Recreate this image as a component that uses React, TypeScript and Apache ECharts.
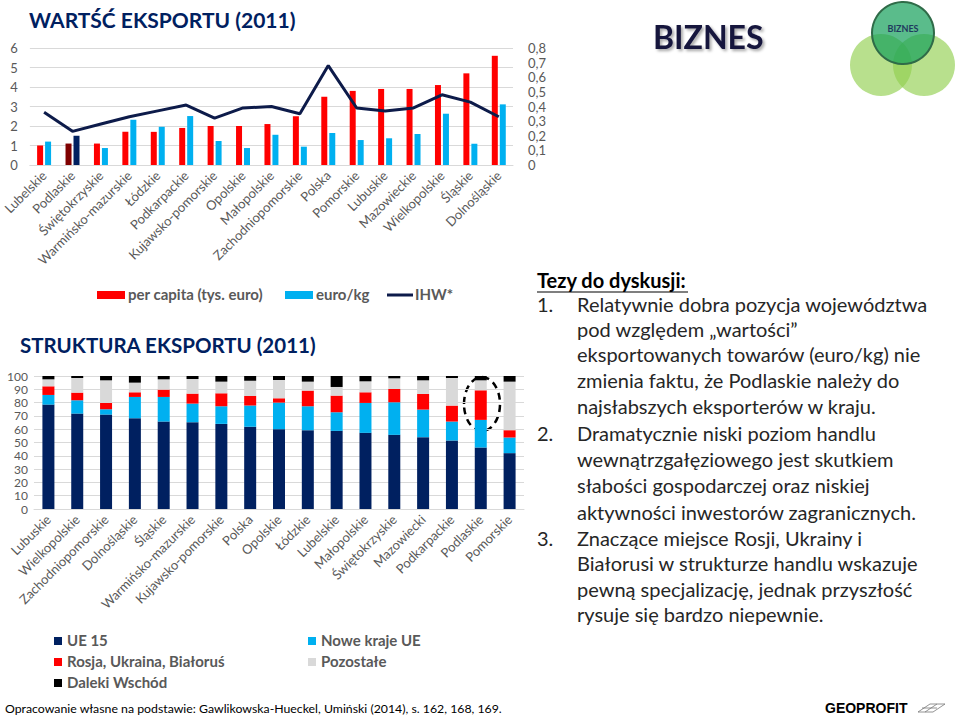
import React, { useEffect, useRef } from "react";
import * as echarts from "echarts";

const topCategories = ["Lubelskie", "Podlaskie", "Świętokrzyskie", "Warmińsko-mazurskie", "Łódzkie", "Podkarpackie", "Kujawsko-pomorskie", "Opolskie", "Małopolskie", "Zachodniopomorskie", "Polska", "Pomorskie", "Lubuskie", "Mazowieckie", "Wielkopolskie", "Śląskie", "Dolnośląskie"];
const perCapita = [1.0, 1.1, 1.1, 1.7, 1.7, 1.9, 2.0, 2.0, 2.1, 2.5, 3.5, 3.8, 3.9, 3.9, 4.1, 4.7, 5.6];
const euroPerKg = [1.2, 1.5, 0.87, 2.32, 1.96, 2.51, 1.23, 0.87, 1.55, 0.94, 1.64, 1.28, 1.37, 1.59, 2.63, 1.09, 3.11];
const ihw = [0.36, 0.23, 0.28, 0.33, 0.37, 0.41, 0.32, 0.39, 0.4, 0.35, 0.68, 0.39, 0.37, 0.39, 0.48, 0.43, 0.33];
const highlighted = "Podlaskie";

const bottomCategories = ["Lubuskie", "Wielkopolskie", "Zachodniopomorskie", "Dolnośląskie", "Śląskie", "Warmińsko-mazurskie", "Kujawsko-pomorskie", "Polska", "Opolskie", "Łódzkie", "Lubelskie", "Małopolskie", "Świętokrzyskie", "Mazowiecki", "Podkarpackie", "Podlaskie", "Pomorskie"];
const ue15 = [78.5, 71.75, 71, 68.25, 65.75, 65.25, 64, 61.75, 60, 59.25, 58.75, 57.25, 55.75, 54, 51.5, 46.25, 42];
const noweKraje = [7.25, 10, 4, 16, 18.5, 14, 13.25, 16, 20, 18, 14, 22.5, 24.5, 20.75, 14.25, 20.75, 11.75];
const rosja = [6.5, 5.75, 4.75, 3.5, 5.5, 7.5, 9.75, 7.25, 3.25, 11.75, 12.5, 8, 10, 11.75, 12, 22.25, 5.5];
const pozostale = [5.25, 11, 17, 7.25, 7.75, 11, 8.75, 11.5, 13.75, 6.75, 6.5, 8.25, 8, 10.25, 20.75, 7.5, 36.5];
const daleki = [2.5, 1.5, 3.25, 5, 2.5, 2.25, 4.25, 3.5, 3, 4.25, 8.25, 4, 1.75, 3.25, 1.5, 3.25, 4.25];

const leftTicks = [0, 6, 1];
const rightTicks = [0, 0.8, 0.1];
const shareTicks = [0, 100, 10];

const thesisLines = [
  { num: "1.", text: "Relatywnie dobra pozycja województwa" },
  { num: "", text: "pod względem „wartości”" },
  { num: "", text: "eksportowanych towarów (euro/kg) nie" },
  { num: "", text: "zmienia faktu, że Podlaskie należy do" },
  { num: "", text: "najsłabszych eksporterów w kraju." },
  { num: "2.", text: "Dramatycznie niski poziom handlu" },
  { num: "", text: "wewnątrzgałęziowego jest skutkiem" },
  { num: "", text: "słabości gospodarczej oraz niskiej" },
  { num: "", text: "aktywności inwestorów zagranicznych." },
  { num: "3.", text: "Znaczące miejsce Rosji, Ukrainy i" },
  { num: "", text: "Białorusi w strukturze handlu wskazuje" },
  { num: "", text: "pewną specjalizację, jednak przyszłość" },
  { num: "", text: "rysuje się bardzo niepewnie." },
];
const thesisY = [304, 329, 354, 380, 406, 433, 459, 485, 512, 538, 563, 589, 614];

const FONT = "Lato, 'Open Sans', sans-serif";
const GRAY = "#595959";
const NAVY = "#002060";

export default function App() {
  const ref = useRef<HTMLDivElement>(null);
  useEffect(() => {
    if (!ref.current) return;
    const chart = echarts.init(ref.current, null, { renderer: "svg" });
    const fmt = (v: number) => String(Math.round(v * 10) / 10).replace(".", ",");

    const legendText = (x: number, y: number, t: string) => ({
      type: "text", left: x, top: y - 9,
      style: { text: t, fill: GRAY, font: `bold 15px ${FONT}` },
    });
    const legendSq = (x: number, y: number, c: string) => ({
      type: "rect", shape: { x, y: y - 4, width: 8, height: 8 }, style: { fill: c },
    });

    const graphic: any[] = [
      { type: "text", left: 29, top: 9, style: { text: "WARTŚĆ EKSPORTU (2011)", fill: NAVY, font: `bold 21px ${FONT}` } },
      { type: "text", left: 20, top: 334, style: { text: "STRUKTURA EKSPORTU (2011)", fill: NAVY, font: `bold 20.5px ${FONT}` } },
      // top legend
      { type: "rect", shape: { x: 97, y: 291, width: 28, height: 8 }, style: { fill: "#ff0000" } },
      legendText(128, 295, "per capita (tys. euro)"),
      { type: "rect", shape: { x: 285, y: 291, width: 28, height: 8 }, style: { fill: "#00b0f0" } },
      legendText(316, 295, "euro/kg"),
      { type: "line", shape: { x1: 387, y1: 295, x2: 413, y2: 295 }, style: { stroke: "#0d1b4a", lineWidth: 3 } },
      legendText(415, 295, "IHW*"),
      // bottom legend
      legendSq(54, 641, NAVY), legendText(67, 641, "UE 15"),
      legendSq(54, 662, "#ff0000"), legendText(67, 662, "Rosja, Ukraina, Białoruś"),
      legendSq(54, 683, "#000000"), legendText(67, 683, "Daleki Wschód"),
      legendSq(308, 641, "#00b0f0"), legendText(321, 641, "Nowe kraje UE"),
      legendSq(308, 662, "#d9d9d9"), legendText(321, 662, "Pozostałe"),
      // dashed ellipse highlight
      { type: "ellipse", shape: { cx: 482, cy: 404, rx: 18, ry: 27 }, style: { fill: "none", stroke: "#000", lineWidth: 2.5, lineDash: [7, 5] } },
      // footer
      { type: "text", left: 5, top: 702, style: { text: "Opracowanie własne na podstawie: Gawlikowska-Hueckel, Umiński (2014), s. 162, 168, 169.", fill: "#000", font: `12.3px ${FONT}` } },
      // BIZNES heading
      { type: "text", left: 653, top: 20, style: { text: "BIZNES", fill: "#14143c", font: `bold 32px ${FONT}`, textShadowColor: "rgba(0,0,0,0.35)", textShadowBlur: 3, textShadowOffsetX: 2, textShadowOffsetY: 2 } },
      // logo circles
      { type: "circle", shape: { cx: 881, cy: 65, r: 31 }, style: { fill: "rgba(146,208,80,0.65)" } },
      { type: "circle", shape: { cx: 924, cy: 65, r: 31 }, style: { fill: "rgba(146,208,80,0.65)" } },
      { type: "circle", shape: { cx: 903, cy: 33, r: 31 }, style: { fill: "rgba(20,160,90,0.7)", stroke: "#2f6b48", lineWidth: 2 } },
      { type: "text", x: 903, y: 28, style: { text: "BIZNES", fill: "#1f3a5f", font: `bold 9px ${FONT}`, textAlign: "center", textVerticalAlign: "middle" } },
      // theses
      { type: "text", left: 537, top: 270, style: { text: "Tezy do dyskusji:", fill: "#000", font: `bold 20px ${FONT}` } },
      { type: "line", shape: { x1: 537, y1: 292, x2: 688, y2: 292 }, style: { stroke: "#000", lineWidth: 1.2 } },
      // GEOPROFIT
      { type: "text", left: 825, top: 701, style: { text: "GEOPROFIT", fill: "#000", font: `bold 14px Arial, 'Liberation Sans', sans-serif` } },
      { type: "polyline", shape: { points: [[918, 712], [930, 704], [945, 704], [933, 712], [918, 712]] }, style: { stroke: "#777", fill: "none", lineWidth: 0.8 } },
      { type: "polyline", shape: { points: [[922, 708], [937, 708]] }, style: { stroke: "#777", lineWidth: 0.8 } },
      { type: "polyline", shape: { points: [[925, 712], [937, 704]] }, style: { stroke: "#777", lineWidth: 0.8 } },
    ];
    thesisLines.forEach((l, i) => {
      if (l.num) graphic.push({ type: "text", x: 537, y: thesisY[i], style: { text: l.num, fill: "#262626", font: `20px ${FONT}`, textVerticalAlign: "middle" } });
      graphic.push({ type: "text", x: 577, y: thesisY[i], style: { text: l.text, fill: "#262626", font: `20px ${FONT}`, textVerticalAlign: "middle" } });
    });

    const axisLabel = { color: GRAY, fontFamily: FONT, fontSize: 13 };

    chart.setOption({
      animation: false,
      textStyle: { fontFamily: FONT },
      grid: [
        { left: 27, top: 48, width: 486, height: 117 },
        { left: 34, top: 376, width: 490, height: 133 },
      ],
      xAxis: [
        {
          type: "category", gridIndex: 0, data: topCategories,
          axisLine: { show: true, lineStyle: { color: "#d9d9d9" } }, axisTick: { show: false },
          axisLabel: { ...axisLabel, rotate: 45, interval: 0, margin: 8 },
        },
        {
          type: "category", gridIndex: 1, data: bottomCategories,
          axisLine: { show: true, lineStyle: { color: "#d9d9d9" } }, axisTick: { show: false },
          axisLabel: { ...axisLabel, rotate: 45, interval: 0, margin: 8 },
        },
      ],
      yAxis: [
        {
          type: "value", gridIndex: 0, min: leftTicks[0], max: leftTicks[1], interval: leftTicks[2],
          axisLine: { show: false }, axisTick: { show: false },
          splitLine: { lineStyle: { color: "#d9d9d9" } },
          axisLabel: { ...axisLabel, fontSize: 13, margin: 12 },
        },
        {
          type: "value", gridIndex: 0, min: rightTicks[0], max: rightTicks[1], interval: rightTicks[2],
          position: "right", axisLine: { show: false }, axisTick: { show: false }, splitLine: { show: false },
          axisLabel: { ...axisLabel, fontSize: 13, margin: 15, formatter: fmt },
        },
        {
          type: "value", gridIndex: 1, min: shareTicks[0], max: shareTicks[1], interval: shareTicks[2],
          axisLine: { show: false }, axisTick: { show: false },
          splitLine: { lineStyle: { color: "#d9d9d9" } },
          axisLabel: { ...axisLabel, fontSize: 12, lineHeight: 12, margin: 6 },
        },
      ],
      series: [
        {
          name: "per capita (tys. euro)", type: "bar", xAxisIndex: 0, yAxisIndex: 0, barWidth: 6, barGap: "33%",
          itemStyle: { color: "#ff0000" },
          data: perCapita.map((v, i) => topCategories[i] === highlighted ? { value: v, itemStyle: { color: "#7f0000" } } : v),
        },
        {
          name: "euro/kg", type: "bar", xAxisIndex: 0, yAxisIndex: 0, barWidth: 6, barGap: "33%",
          itemStyle: { color: "#00b0f0" },
          data: euroPerKg.map((v, i) => topCategories[i] === highlighted ? { value: v, itemStyle: { color: NAVY } } : v),
        },
        {
          name: "IHW*", type: "line", xAxisIndex: 0, yAxisIndex: 1, data: ihw, symbol: "none",
          lineStyle: { color: "#0d1b4a", width: 3 }, itemStyle: { color: "#0d1b4a" },
        },
        { name: "UE 15", type: "bar", stack: "s", xAxisIndex: 1, yAxisIndex: 2, barWidth: 12, data: ue15, itemStyle: { color: NAVY } },
        { name: "Nowe kraje UE", type: "bar", stack: "s", xAxisIndex: 1, yAxisIndex: 2, barWidth: 12, data: noweKraje, itemStyle: { color: "#00b0f0" } },
        { name: "Rosja, Ukraina, Białoruś", type: "bar", stack: "s", xAxisIndex: 1, yAxisIndex: 2, barWidth: 12, data: rosja, itemStyle: { color: "#ff0000" } },
        { name: "Pozostałe", type: "bar", stack: "s", xAxisIndex: 1, yAxisIndex: 2, barWidth: 12, data: pozostale, itemStyle: { color: "#d9d9d9" } },
        { name: "Daleki Wschód", type: "bar", stack: "s", xAxisIndex: 1, yAxisIndex: 2, barWidth: 12, data: daleki, itemStyle: { color: "#000000" } },
      ],
      graphic,
    });
    return () => chart.dispose();
  }, []);
  return <div ref={ref} style={{ position: "fixed", left: 0, top: 0, width: 960, height: 717, background: "#fff" }} />;
}
